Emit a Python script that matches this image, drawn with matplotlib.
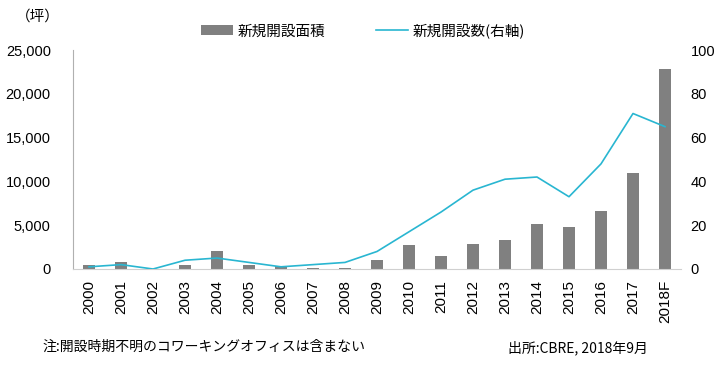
import matplotlib.pyplot as plt
from matplotlib.ticker import FuncFormatter

plt.rcParams['font.family'] = ['Liberation Sans', 'Noto Sans CJK JP', 'DejaVu Sans']
jp = ['Noto Sans CJK JP', 'DejaVu Sans']

# data
years = ['2000', '2001', '2002', '2003', '2004', '2005', '2006', '2007', '2008', '2009',
         '2010', '2011', '2012', '2013', '2014', '2015', '2016', '2017', '2018F']
area = [400, 800, 0, 450, 2100, 450, 300, 150, 100, 1060,
        2740, 1450, 2810, 3310, 5100, 4800, 6620, 10960, 22830]
count = [1, 2, 0, 4, 5, 3, 1, 2, 3, 8,
         17, 26, 36, 41, 42, 33, 48, 71, 65]

bar_color = '#808080'
line_color = '#29B6D1'

fig = plt.figure(figsize=(7.26, 3.66), dpi=100)
ax = fig.add_axes([73 / 726, 1 - 269 / 366, 608 / 726, 219 / 366])
ax2 = ax.twinx()

x = range(len(years))
ax.bar(x, area, width=0.4, color=bar_color, label='新規開設面積', zorder=2)
ax2.plot(x, count, color=line_color, lw=1.2, label='新規開設数(右軸)', zorder=3)

ax.set_xlim(-0.5, len(years) - 0.5)
ax.set_ylim(0, 25000)
ax2.set_ylim(0, 100)
ax.set_yticks(range(0, 25001, 5000))
ax2.set_yticks(range(0, 101, 20))
ax.yaxis.set_major_formatter(FuncFormatter(lambda v, p: f'{int(v):,}'))
ax.set_xticks(list(x))
ax.set_xticklabels(years, rotation=90)

for a in (ax, ax2):
    a.tick_params(length=0, labelsize=10.5)
    for s in ('top', 'right'):
        a.spines[s].set_visible(False)
ax2.spines['left'].set_visible(False)
ax2.spines['bottom'].set_visible(False)
ax.spines['left'].set_color('#b0b0b0')
ax.spines['bottom'].set_color('#d0d0d0')
ax.tick_params(axis='y', pad=16)
ax.tick_params(axis='x', pad=8, labelsize=11)
ax2.tick_params(axis='y', pad=7)

h1, l1 = ax.get_legend_handles_labels()
h2, l2 = ax2.get_legend_handles_labels()
fig.legend(h1 + h2, l1 + l2, loc='center', bbox_to_anchor=(0.5, 1 - 31 / 366),
           ncol=2, frameon=False, prop={'family': jp, 'size': 10.5},
           handlelength=2.2, columnspacing=3.5, handletextpad=0.3)

fig.text(16 / 726, 1 - 17 / 366, '（坪）', fontsize=10.5, va='center', family=jp)
fig.text(42 / 726, 1 - 347 / 366, '注:開設時期不明のコワーキングオフィスは含まない',
         fontsize=10, va='center', family=jp)
fig.text(508 / 726, 1 - 348 / 366, '出所:CBRE, 2018年9月', fontsize=10, va='center', family=jp)

fig.savefig('out.png', dpi=100)
